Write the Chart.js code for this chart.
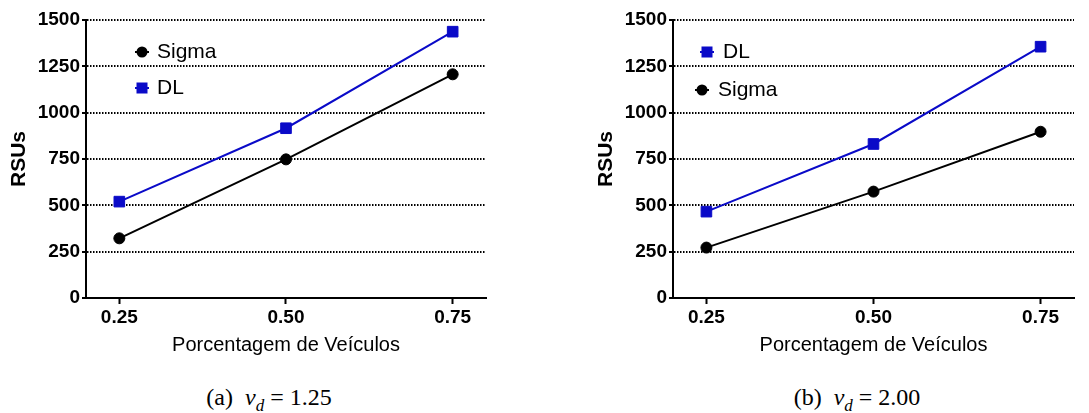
<!DOCTYPE html>
<html>
<head>
<meta charset="utf-8">
<script src="https://cdn.jsdelivr.net/npm/chart.js@4/dist/chart.umd.min.js"></script>
<style>
  body { margin: 0; background: #fff; }
  #wrap { position: relative; width: 1089px; height: 413px; }
  canvas { position: absolute; top: 0; }
  .cap { position: absolute; top: 384px; transform: translateX(-50%); white-space: nowrap;
         font: 24px "Liberation Serif", "Times New Roman", serif; line-height: 26px; color: #000; }
  .cap i { font-style: italic; }
  .cap sub { font-size: 17px; }
</style>
</head>
<body>
<div id="wrap">
  <canvas id="chartA" width="545" height="357" style="left:0"></canvas>
  <canvas id="chartB" width="544" height="357" style="left:545px"></canvas>
  <div class="cap" style="left:269px">(a)&nbsp;&nbsp;<i>v<sub>d</sub></i> = 1.25</div>
  <div class="cap" style="left:857px">(b)&nbsp;&nbsp;<i>v<sub>d</sub></i> = 2.00</div>
</div>
<script>
// data
const xValues = [0.25, 0.50, 0.75];
const xTicks = [0.25, 0.50, 0.75];
const yTicks = [0, 250, 500, 750, 1000, 1250, 1500];

// (a) v_d = 1.25
const sigmaA = [322, 748, 1207];
const dlA = [520, 916, 1437];
// (b) v_d = 2.00
const dlB = [466, 831, 1356];
const sigmaB = [272, 574, 897];

const BLUE = '#0a0ac8';
const BLACK = '#000000';
const SANS = '"Liberation Sans", Arial, Helvetica, sans-serif';

function pts(ys) {
    return xValues.map((x, i) => ({ x: x, y: ys[i] }));
}

function sigmaSet(ys) {
    return {
        label: 'Sigma', data: pts(ys), borderColor: BLACK, backgroundColor: BLACK,
        borderWidth: 2, pointStyle: 'circle', pointRadius: 5.5, pointBorderWidth: 1
    };
}
function dlSet(ys) {
    return {
        label: 'DL', data: pts(ys), borderColor: BLUE, backgroundColor: BLUE,
        borderWidth: 2, pointStyle: 'rect', pointRadius: 7.5, pointBorderWidth: 1
    };
}

// small legend inside the plot, Prism style
const miniLegend = {
    id: 'miniLegend',
    afterDraw(chart, args, opts) {
        const ctx = chart.ctx;
        const left = chart.chartArea.left;
        ctx.save();
        ctx.font = '21px ' + SANS;
        ctx.textBaseline = 'middle';
        ctx.fillStyle = BLACK;
        opts.items.forEach(it => {
            const ds = chart.data.datasets[it.index];
            const mx = left + it.dx, my = it.y;
            ctx.strokeStyle = ds.borderColor;
            ctx.lineWidth = 2;
            ctx.beginPath();
            ctx.moveTo(mx - 7, my);
            ctx.lineTo(mx + 7, my);
            ctx.stroke();
            ctx.fillStyle = ds.backgroundColor;
            if (ds.pointStyle === 'rect') {
                ctx.fillRect(mx - 5.5, my - 5.5, 11, 11);
            } else {
                ctx.beginPath();
                ctx.arc(mx, my, 5.5, 0, Math.PI * 2);
                ctx.fill();
            }
            ctx.fillStyle = BLACK;
            ctx.fillText(ds.label, left + it.tx, my);
        });
        ctx.restore();
    }
};

function makeChart(id, datasets, padLeft, padRight, legendItems) {
    return new Chart(document.getElementById(id).getContext('2d'), {
        type: 'line',
        data: { datasets: datasets },
        plugins: [miniLegend],
        options: {
            responsive: false,
            animation: false,
            layout: { padding: { left: padLeft, right: padRight, top: 20, bottom: 0 } },
            plugins: {
                legend: { display: false },
                tooltip: { enabled: false },
                miniLegend: { items: legendItems }
            },
            scales: {
                x: {
                    type: 'linear', min: 0.2, max: 0.8,
                    afterBuildTicks: s => { s.ticks = xTicks.map(v => ({ value: v })); },
                    afterFit: s => { s.height = 59; },
                    ticks: {
                        color: BLACK, padding: 2,
                        font: { family: SANS, size: 19, weight: 'bold' },
                        callback: v => v.toFixed(2)
                    },
                    grid: { drawOnChartArea: false, tickLength: 6, tickColor: BLACK, tickWidth: 2 },
                    border: { color: BLACK, width: 2 },
                    title: {
                        display: true, text: 'Porcentagem de Veículos', color: BLACK,
                        font: { family: SANS, size: 20 }, padding: { top: 0, bottom: 0 }
                    }
                },
                y: {
                    min: 0, max: 1500,
                    afterBuildTicks: s => { s.ticks = yTicks.map(v => ({ value: v })); },
                    afterFit: s => { s.width = 86; },
                    ticks: {
                        color: BLACK, padding: 2,
                        font: { family: SANS, size: 19, weight: 'bold' },
                        callback: v => String(v)
                    },
                    grid: {
                        color: BLACK, lineWidth: 2, tickLength: 4, tickColor: BLACK,
                        tickWidth: 2, tickBorderDash: []
                    },
                    border: { color: BLACK, width: 2, dash: [1.5, 1.5] },
                    title: {
                        display: true, text: 'RSUs', color: BLACK,
                        font: { family: SANS, size: 21, weight: 'bold' }, padding: { top: 7, bottom: 0 }
                    }
                }
            }
        }
    });
}

makeChart('chartA', [sigmaSet(sigmaA), dlSet(dlA)], 0, 59, [
    { index: 0, dx: 56, tx: 71, y: 52 },
    { index: 1, dx: 56, tx: 71, y: 88 }
]);
makeChart('chartB', [sigmaSet(sigmaB), dlSet(dlB)], 42, 15, [
    { index: 1, dx: 34, tx: 50, y: 52 },
    { index: 0, dx: 29, tx: 45, y: 90 }
]);
</script>
</body>
</html>
